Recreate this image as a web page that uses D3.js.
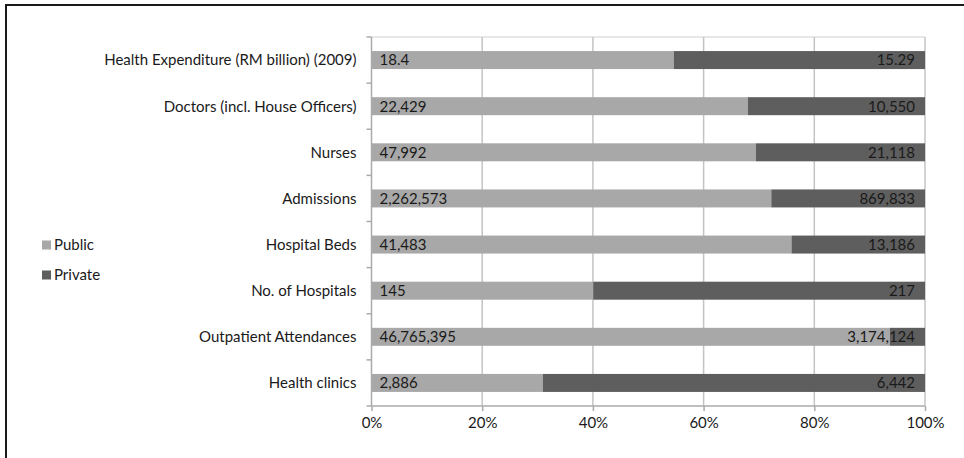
<!DOCTYPE html>
<html>
<head>
<meta charset="utf-8">
<script src="https://cdn.jsdelivr.net/npm/d3@7"></script>
<style>
  html, body { margin: 0; padding: 0; background: #fff; }
  svg { display: block; }
  text { font-family: Lato, "Open Sans", sans-serif; fill: #1a1a1a; }
</style>
</head>
<body>
<svg id="chart" width="964" height="458"></svg>
<script>
// Public vs private health sector indicators, Malaysia
const categories = [
  "Health Expenditure (RM billion) (2009)",
  "Doctors (incl. House Officers)",
  "Nurses",
  "Admissions",
  "Hospital Beds",
  "No. of Hospitals",
  "Outpatient Attendances",
  "Health clinics"
];
const publicValues  = [18.4, 22429, 47992, 2262573, 41483, 145, 46765395, 2886];
const privateValues = [15.29, 10550, 21118, 869833, 13186, 217, 3174124, 6442];
const publicLabels  = ["18.4", "22,429", "47,992", "2,262,573", "41,483", "145", "46,765,395", "2,886"];
const privateLabels = ["15.29", "10,550", "21,118", "869,833", "13,186", "217", "3,174,124", "6,442"];
const seriesNames = ["Public", "Private"];
const tickValues = [0, 0.2, 0.4, 0.6, 0.8, 1.0];

const colors = { Public: "#a8a8a8", Private: "#5e5e5e" };
const FS = 15;
const FONT = "Lato, 'Open Sans', sans-serif";

const svg = d3.select("#chart");

// outer frame
svg.append("rect")
  .attr("x", 6).attr("y", 5)
  .attr("width", 980).attr("height", 480)
  .attr("fill", "none").attr("stroke", "#1a1a1a").attr("stroke-width", 2);

const plot = { left: 371.5, right: 925, top: 37, bottom: 406 };

const x = d3.scaleLinear().domain([0, 1]).range([plot.left, plot.right]);
const y = d3.scaleBand().domain(categories).range([plot.top, plot.bottom]).paddingInner(0.61).paddingOuter(0.305);

const rows = categories.map((c, i) => {
  const total = publicValues[i] + privateValues[i];
  return { cat: c, pub: publicValues[i] / total, pubLabel: publicLabels[i], privLabel: privateLabels[i] };
});

// gridlines
const g = svg.append("g");
g.selectAll("line.grid").data(tickValues.slice(1)).join("line")
  .attr("class", "grid")
  .attr("x1", d => x(d)).attr("x2", d => x(d))
  .attr("y1", plot.top).attr("y2", plot.bottom)
  .attr("stroke", "#c4c4c4").attr("stroke-width", 1.5);
g.append("line")
  .attr("x1", plot.left).attr("x2", plot.right)
  .attr("y1", plot.top).attr("y2", plot.top)
  .attr("stroke", "#cfcfcf").attr("stroke-width", 1.2);

// bars
const bars = svg.append("g");
bars.selectAll("rect.pub").data(rows).join("rect")
  .attr("x", x(0)).attr("y", d => y(d.cat))
  .attr("width", d => x(d.pub) - x(0)).attr("height", y.bandwidth())
  .attr("fill", colors.Public);
bars.selectAll("rect.priv").data(rows).join("rect")
  .attr("x", d => x(d.pub)).attr("y", d => y(d.cat))
  .attr("width", d => x(1) - x(d.pub)).attr("height", y.bandwidth())
  .attr("fill", colors.Private);

// value labels
bars.selectAll("text.pub").data(rows).join("text")
  .attr("x", x(0) + 8).attr("y", d => y(d.cat) + y.bandwidth() / 2)
  .attr("dy", "0.36em").attr("font-size", FS)
  .text(d => d.pubLabel);
bars.selectAll("text.priv").data(rows).join("text")
  .attr("x", x(1) - 10).attr("y", d => y(d.cat) + y.bandwidth() / 2)
  .attr("dy", "0.36em").attr("font-size", FS).attr("text-anchor", "end")
  .text(d => d.privLabel);

// x axis
const xAxis = svg.append("g").attr("transform", `translate(0,${plot.bottom})`)
  .call(d3.axisBottom(x).tickValues(tickValues).tickFormat(d3.format(".0%")).tickSize(5));
xAxis.select(".domain").attr("stroke", "#aaa").attr("stroke-width", 1.5).attr("d", `M${plot.left},0H${plot.right}`);
xAxis.selectAll(".tick line").attr("stroke", "#aaa").attr("stroke-width", 1.5);
xAxis.selectAll(".tick text").attr("font-size", FS).attr("font-family", FONT)
  .attr("fill", "#1a1a1a").attr("dy", "0.95em");

// y axis with ticks at category boundaries
const yAxis = svg.append("g");
yAxis.append("line")
  .attr("x1", plot.left).attr("x2", plot.left)
  .attr("y1", plot.top).attr("y2", plot.bottom)
  .attr("stroke", "#aaa").attr("stroke-width", 1.5);
const boundaries = d3.range(categories.length + 1).map(i => plot.top + i * (plot.bottom - plot.top) / categories.length);
yAxis.selectAll("line.tk").data(boundaries).join("line")
  .attr("x1", plot.left - 5).attr("x2", plot.left)
  .attr("y1", d => d).attr("y2", d => d)
  .attr("stroke", "#aaa").attr("stroke-width", 1.5);
yAxis.selectAll("text").data(categories).join("text")
  .attr("x", plot.left - 15).attr("y", d => y(d) + y.bandwidth() / 2)
  .attr("dy", "0.36em").attr("text-anchor", "end").attr("font-size", FS)
  .text(d => d);

// legend
const legend = svg.append("g");
seriesNames.forEach((s, i) => {
  const ly = 245 + i * 30;
  legend.append("rect").attr("x", 42).attr("y", ly - 4.5).attr("width", 9).attr("height", 9).attr("fill", colors[s]);
  legend.append("text").attr("x", 54).attr("y", ly).attr("dy", "0.36em").attr("font-size", FS).text(s);
});
</script>
</body>
</html>
